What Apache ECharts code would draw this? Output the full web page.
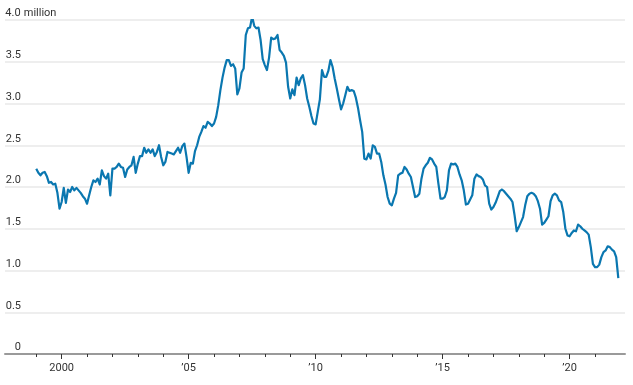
<!DOCTYPE html>
<html><head><meta charset="utf-8">
<script src="https://cdn.jsdelivr.net/npm/echarts@6/dist/echarts.min.js"></script>
<style>html,body{margin:0;padding:0;background:#fff}#c{width:633px;height:385px}</style>
</head><body><div id="c"></div>
<script>
// Monthly values, millions, Jan 1999 .. Dec 2021
const startYear = 1999;
const inventory = [
  // 1999
  2.22,2.17,2.14,2.17,2.18,2.13,2.05,2.06,2.03,2.04,1.93,1.74,
  // 2000
  1.82,1.99,1.81,1.97,1.94,2.00,1.96,1.99,1.96,1.93,1.89,1.86,
  // 2001
  1.80,1.90,2.00,2.08,2.06,2.10,2.03,2.20,2.13,2.10,2.16,1.90,
  // 2002
  2.22,2.22,2.24,2.28,2.24,2.23,2.12,2.21,2.24,2.26,2.36,2.17,
  // 2003
  2.28,2.37,2.37,2.47,2.41,2.45,2.41,2.45,2.37,2.42,2.50,2.36,
  // 2004
  2.26,2.30,2.42,2.41,2.40,2.39,2.43,2.47,2.41,2.49,2.52,2.36,
  // 2005
  2.17,2.29,2.28,2.43,2.50,2.60,2.66,2.73,2.71,2.78,2.76,2.73,
  // 2006
  2.76,2.84,2.98,3.16,3.31,3.43,3.52,3.52,3.45,3.47,3.42,3.11,
  // 2007
  3.18,3.37,3.42,3.82,3.90,3.91,4.04,3.93,3.90,3.91,3.76,3.53,
  // 2008
  3.46,3.40,3.55,3.79,3.77,3.78,3.82,3.64,3.61,3.57,3.49,3.20,
  // 2009
  3.06,3.17,3.10,3.31,3.22,3.30,3.34,3.22,3.06,2.96,2.85,2.76,
  // 2010
  2.75,2.90,3.05,3.40,3.32,3.32,3.39,3.52,3.44,3.30,3.18,3.05,
  // 2011
  2.93,3.00,3.10,3.20,3.15,3.16,3.15,3.07,2.95,2.80,2.66,2.34,
  // 2012
  2.33,2.40,2.34,2.50,2.48,2.40,2.40,2.30,2.14,2.03,1.88,1.80,
  // 2013
  1.78,1.86,1.93,2.14,2.16,2.17,2.24,2.21,2.16,2.12,2.00,1.88,
  // 2014
  1.89,1.92,2.10,2.22,2.26,2.29,2.35,2.33,2.28,2.24,2.04,1.86,
  // 2015
  1.86,1.88,1.96,2.20,2.28,2.27,2.28,2.24,2.15,2.08,1.96,1.79,
  // 2016
  1.80,1.85,1.90,2.10,2.15,2.13,2.12,2.09,2.02,2.00,1.80,1.73,
  // 2017
  1.76,1.81,1.88,1.95,1.97,1.95,1.92,1.89,1.86,1.82,1.66,1.47,
  // 2018
  1.52,1.58,1.64,1.78,1.89,1.92,1.93,1.92,1.89,1.83,1.74,1.55,
  // 2019
  1.57,1.61,1.65,1.83,1.90,1.92,1.90,1.84,1.82,1.70,1.50,1.42,
  // 2020
  1.41,1.45,1.48,1.47,1.55,1.53,1.50,1.48,1.46,1.43,1.28,1.08,
  // 2021
  1.04,1.04,1.07,1.16,1.22,1.24,1.29,1.28,1.25,1.23,1.16,0.91
];
const tickYears = [1999,2000,2001,2002,2003,2004,2005,2006,2007,2008,2009,2010,
                   2011,2012,2013,2014,2015,2016,2017,2018,2019,2020,2021];
const majorYears = [2000,2005,2010,2015,2020];
const majorLabels = ['2000','\u201905','\u201910','\u201915','\u201920'];
const yTickLabels = ['0','0.5','1.0','1.5','2.0','2.5','3.0','3.5','4.0'];

const points = inventory.map((v, i) => [startYear + i / 12, v]);
const FONT = 'Roboto, "Liberation Sans", sans-serif';

const chart = echarts.init(document.getElementById('c'), null, {renderer: 'canvas'});
chart.setOption({
  animation: false,
  backgroundColor: '#fff',
  grid: {left: 5, right: 8, top: 20, bottom: 31, containLabel: false},
  xAxis: [{
    type: 'value', min: 1997.77, max: 2022.18,
    axisLine: {show: true, lineStyle: {color: '#9a9a9a', width: 2}},
    axisTick: {show: true, customValues: tickYears, length: 3, lineStyle: {color: '#333', width: 1}},
    axisLabel: {show: true, customValues: majorYears, margin: 9, color: '#333', fontFamily: FONT, fontSize: 11,
      formatter: v => { const k = majorYears.indexOf(Math.round(v)); return k >= 0 ? majorLabels[k] : ''; }},
    splitLine: {show: false}
  }, {
    type: 'value', min: 1997.77, max: 2022.18, position: 'bottom',
    axisLine: {show: false},
    axisTick: {show: true, customValues: majorYears, length: 5, lineStyle: {color: '#333', width: 1}},
    axisLabel: {show: false},
    splitLine: {show: false}
  }],
  yAxis: {
    type: 'value', min: 0, max: 4, interval: 0.5,
    axisLine: {show: false}, axisTick: {show: false},
    splitLine: {show: true, lineStyle: {color: '#eeeeee', width: 2}},
    axisLabel: {
      inside: true, margin: 0, align: 'left', verticalAlign: 'bottom', padding: [0, 0, 1, 0],
      color: '#333', fontFamily: FONT, fontSize: 11,
      formatter: v => {
        const k = Math.round(v * 2);
        const t = yTickLabels[k];
        return k === 8 ? '{n|' + t + '}{u| million}' : '{n|' + t + '}';
      },
      rich: {
        n: {width: 16, align: 'right', color: '#333', fontFamily: FONT, fontSize: 11},
        u: {color: '#333', fontFamily: FONT, fontSize: 11}
      }
    }
  },
  series: [{
    type: 'line', xAxisIndex: 0, data: points, showSymbol: false, symbol: 'none',
    lineStyle: {color: '#0a77b0', width: 2.2, join: 'round'}, z: 5
  }]
});
</script></body></html>
